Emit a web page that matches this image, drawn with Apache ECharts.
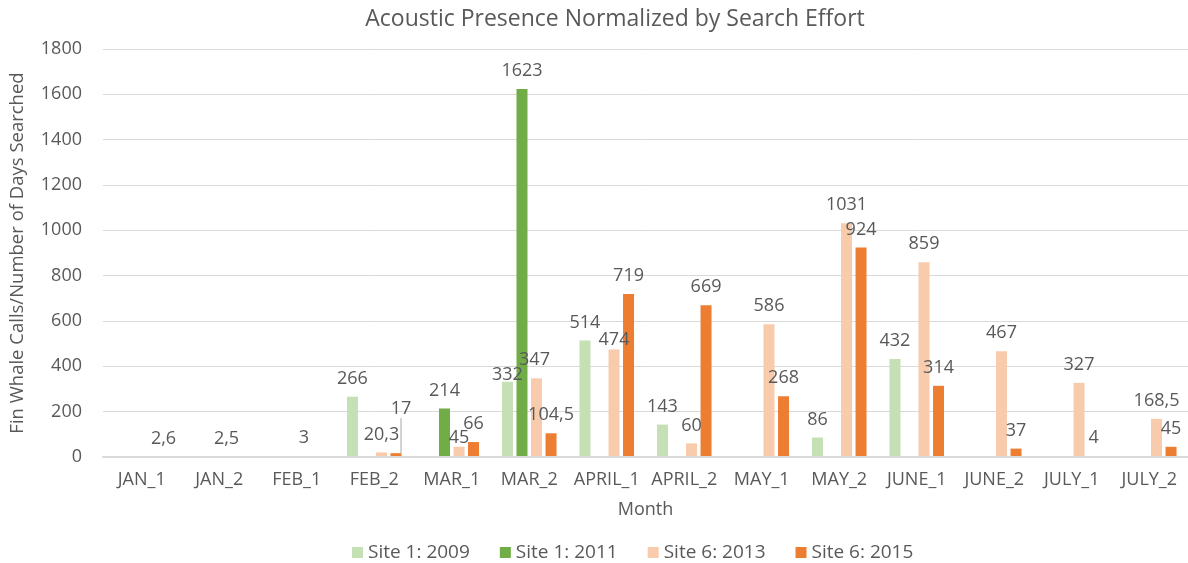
<!DOCTYPE html>
<html>
<head>
<meta charset="utf-8">
<script src="https://cdn.jsdelivr.net/npm/echarts@6/dist/echarts.min.js"></script>
<style>
html,body{margin:0;padding:0;background:#fff;}
#chart{width:1188px;height:563px;}
</style>
</head>
<body>
<div id="chart"></div>
<script>
var categories = ['JAN_1','JAN_2','FEB_1','FEB_2','MAR_1','MAR_2','APRIL_1','APRIL_2','MAY_1','MAY_2','JUNE_1','JUNE_2','JULY_1','JULY_2'];
var seriesNames = ['Site 1: 2009','Site 1: 2011','Site 6: 2013','Site 6: 2015'];
var site1_2009 = [null,null,null,266,null,332,514,143,null,86,432,null,null,null];
var site1_2011 = [null,null,null,null,214,1623,null,null,null,null,null,null,null,null];
var site6_2013 = [null,2.5,3,20.3,45,347,474,60,586,1031,859,467,327,168.5];
var site6_2015 = [2.6,null,null,17,66,104.5,719,669,268,924,314,37,4,45];
var yTicks = [0,200,400,600,800,1000,1200,1400,1600,1800];

var colors = ['#C5E0B4','#70AD47','#F8CBAD','#ED7D31'];
var FONT = '"Open Sans", sans-serif';
var TXT = '#595959';

// manual label nudges (series index -> data index -> [dx, dy])
var labelNudges = {
  0: {5: [0, 11]},
  2: {4: [0, 9], 5: [-2, 0], 6: [0, 8.5]},
  3: {3: [5, -26]}
};
var leaderLines = {3: {3: true}};

function buildData(arr, si) {
  return arr.map(function (v, i) {
    var item = {value: v};
    if (leaderLines[si] && leaderLines[si][i]) {
      item.labelLine = {show: true, lineStyle: {color: '#a6a6a6', width: 1}};
    }
    return item;
  });
}

var allSeries = [site1_2009, site1_2011, site6_2013, site6_2015].map(function (arr, si) {
  return {
    name: seriesNames[si],
    type: 'bar',
    barWidth: 11,
    barGap: '32%',
    itemStyle: {color: colors[si]},
    data: buildData(arr, si),
    label: {
      show: true,
      position: 'top',
      distance: 9,
      fontFamily: FONT,
      fontSize: 18,
      color: TXT,
      formatter: function (p) {
        if (p.value == null) return '';
        return String(p.value).replace('.', ',');
      }
    },
    labelLayout: function (params) {
      var n = labelNudges[si] && labelNudges[si][params.dataIndex];
      if (n) return {dx: n[0], dy: n[1]};
      return {};
    }
  };
});

var chart = echarts.init(document.getElementById('chart'));
chart.setOption({
  animation: false,
  title: {
    text: 'Acoustic Presence Normalized by Search Effort',
    left: 610,
    textAlign: 'center',
    top: 3,
    textStyle: {fontFamily: FONT, fontSize: 23, fontWeight: 'normal', color: TXT}
  },
  legend: {
    data: seriesNames,
    left: 347,
    top: 538,
    itemWidth: 11,
    itemHeight: 11,
    itemGap: 30,
    icon: 'rect',
    textStyle: {fontFamily: FONT, fontSize: 19, color: TXT}
  },
  grid: {left: 103, right: 0, top: 49, bottom: 106, containLabel: false},
  xAxis: {
    type: 'category',
    data: categories,
    z: 5,
    name: 'Month',
    nameLocation: 'middle',
    nameGap: 44,
    nameTextStyle: {fontFamily: FONT, fontSize: 18, color: TXT},
    axisLine: {lineStyle: {color: '#d9d9d9', width: 2}},
    axisTick: {show: false},
    axisLabel: {fontFamily: FONT, fontSize: 18, color: TXT, margin: 14, interval: 0}
  },
  yAxis: {
    type: 'value',
    min: yTicks[0],
    max: yTicks[yTicks.length - 1],
    interval: yTicks[1] - yTicks[0],
    name: 'Fin Whale Calls/Number of Days Searched',
    nameLocation: 'middle',
    nameGap: 76,
    nameTextStyle: {fontFamily: FONT, fontSize: 18.5, color: TXT},
    axisLine: {show: false},
    axisTick: {show: false},
    splitLine: {lineStyle: {color: '#d9d9d9', width: 1}},
    axisLabel: {fontFamily: FONT, fontSize: 18, color: TXT, margin: 21,
      formatter: function (v) { return String(v); }}
  },
  series: allSeries
});
</script>
</body>
</html>
